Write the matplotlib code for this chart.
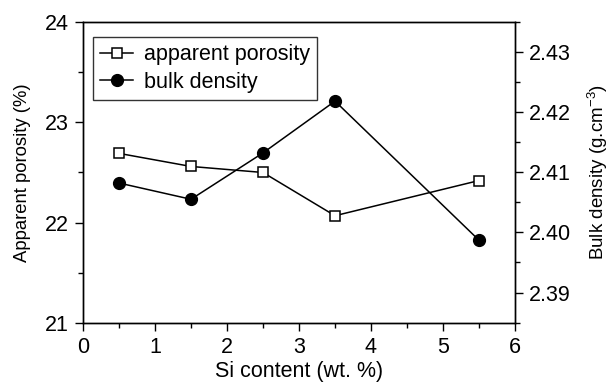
import matplotlib
matplotlib.use("Agg")
import matplotlib.pyplot as plt
from matplotlib.ticker import MultipleLocator

plt.rcParams["font.family"] = ["Liberation Sans", "DejaVu Sans"]
plt.rcParams["mathtext.fontset"] = "custom"
plt.rcParams["mathtext.rm"] = "Liberation Sans"
plt.rcParams["font.size"] = 15.5

# Si additions (wt. %) and measured properties
si_content = [0.5, 1.5, 2.5, 3.5, 5.5]
porosity = [22.69, 22.56, 22.50, 22.07, 22.42]
density = [2.4082, 2.4055, 2.4132, 2.4218, 2.3987]

fig = plt.figure(figsize=(6.12, 3.87), dpi=100)
ax = fig.add_axes([0.1356, 0.1646, 0.7059, 0.7794])
ax2 = ax.twinx()

l1, = ax.plot(si_content, porosity, color="black", lw=1.1, marker="s",
              markersize=7, markerfacecolor="white", markeredgecolor="black",
              markeredgewidth=1.1, label="apparent porosity")
l2, = ax2.plot(si_content, density, color="black", lw=1.1, marker="o",
               markersize=8.5, markerfacecolor="black", markeredgecolor="black",
               label="bulk density")

ax.set_xlim(0, 6)
ax.set_ylim(21, 24)
ax2.set_ylim(2.3849, 2.4350)

ax.xaxis.set_major_locator(MultipleLocator(1))
ax.xaxis.set_minor_locator(MultipleLocator(0.5))
ax.yaxis.set_major_locator(MultipleLocator(1))
ax.yaxis.set_minor_locator(MultipleLocator(0.5))
ax2.yaxis.set_major_locator(MultipleLocator(0.01))
ax2.yaxis.set_minor_locator(MultipleLocator(0.005))
ax2.yaxis.set_major_formatter(plt.FormatStrFormatter("%.2f"))

for a in (ax, ax2):
    for s in a.spines.values():
        s.set_linewidth(1.0)
    a.tick_params(which="major", direction="out", length=6, width=1.0, pad=4)
    a.tick_params(which="minor", direction="out", length=3.5, width=1.0)
ax.tick_params(top=False, which="both")

ax.set_xlabel("Si content (wt. %)", fontsize=15.5, labelpad=2)
ax.set_ylabel("Apparent porosity (%)", fontsize=13.3, labelpad=10)
ax2.set_ylabel(r"Bulk density (g.cm$^{\mathrm{-3}}$)", fontsize=13.5, labelpad=10)

leg = ax.legend(handles=[l1, l2], loc="upper left", bbox_to_anchor=(0.023, 0.95),
                frameon=True, fancybox=False, edgecolor="black", fontsize=15.5,
                handlelength=1.5, handletextpad=0.5, borderpad=0.35,
                labelspacing=0.3, borderaxespad=0.0)
leg.get_frame().set_linewidth(1.0)

fig.savefig("out.png", dpi=100)
